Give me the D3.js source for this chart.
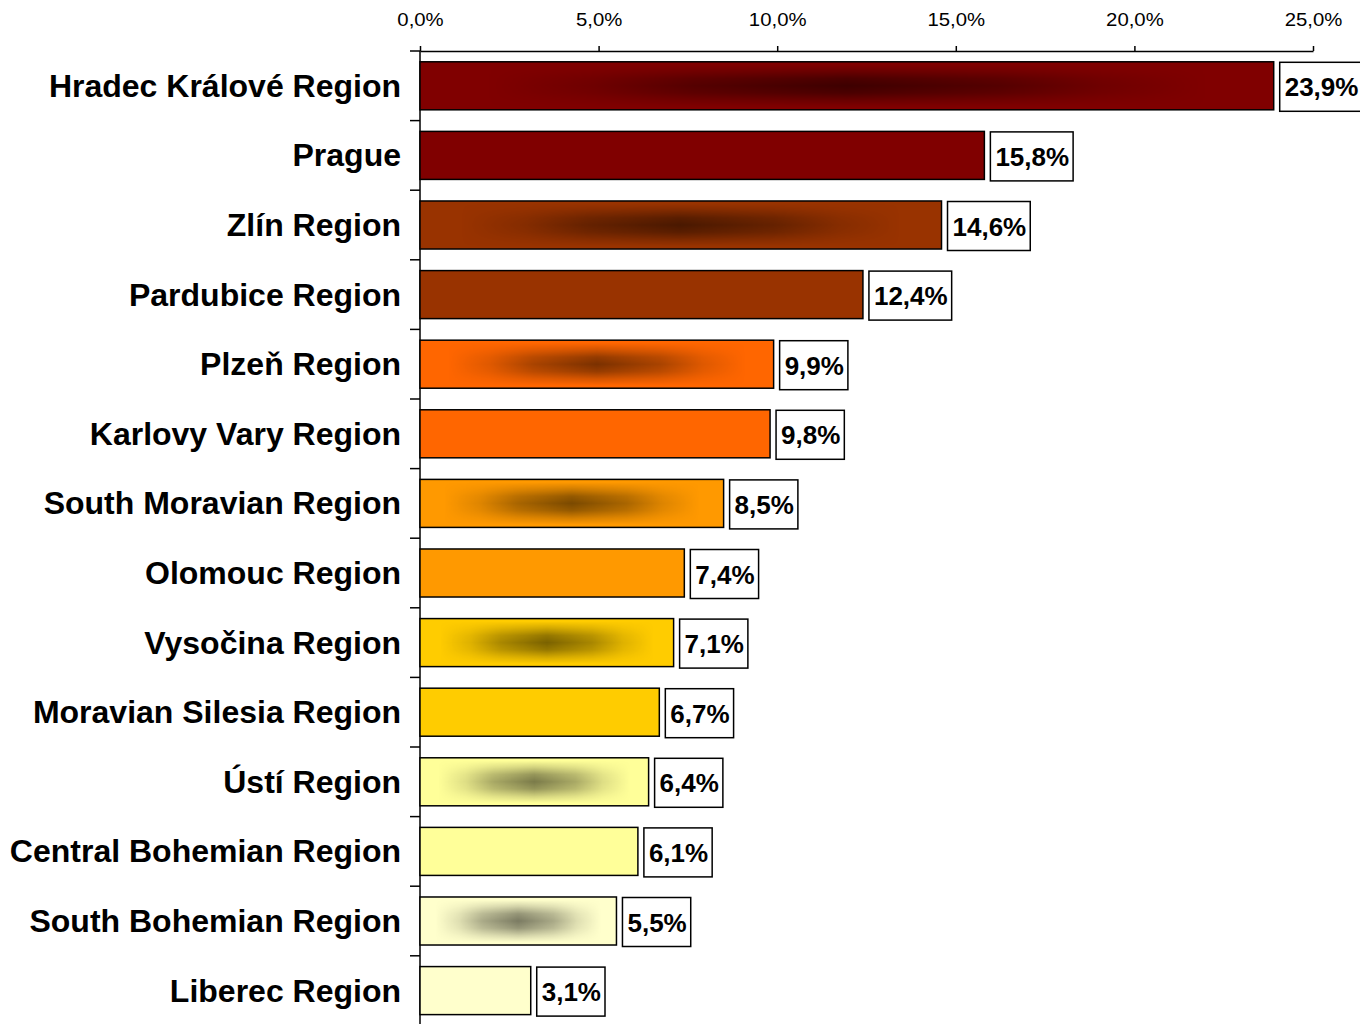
<!DOCTYPE html>
<html>
<head>
<meta charset="utf-8">
<script src="https://cdn.jsdelivr.net/npm/d3@7"></script>
<style>
  html, body { margin: 0; padding: 0; background: #fff; }
  svg { display: block; }
  text { font-family: "Liberation Sans", Arial, sans-serif; }
</style>
</head>
<body>
<svg id="chart" width="1360" height="1024"></svg>
<script>
const categories = [
  "Hradec Králové Region", "Prague", "Zlín Region", "Pardubice Region",
  "Plzeň Region", "Karlovy Vary Region", "South Moravian Region", "Olomouc Region",
  "Vysočina Region", "Moravian Silesia Region", "Ústí Region", "Central Bohemian Region",
  "South Bohemian Region", "Liberec Region"
];
const values = [23.9, 15.8, 14.6, 12.4, 9.9, 9.8, 8.5, 7.4, 7.1, 6.7, 6.4, 6.1, 5.5, 3.1];
const barColors = [
  "#800000", "#800000", "#993300", "#993300", "#FF6600", "#FF6600", "#FF9900",
  "#FF9900", "#FFCC00", "#FFCC00", "#FFFF99", "#FFFF99", "#FFFFCC", "#FFFFCC"
];
const shaded = [true, false, true, false, true, false, true, false, true, false, true, false, true, false];
const tickValues = [0, 5, 10, 15, 20, 25];

const svg = d3.select("#chart");
const x = d3.scaleLinear().domain([0, 25]).range([420, 1313]);
const y = d3.scaleBand().domain(categories).range([51, 1025.4]).paddingInner(0.31).paddingOuter(0.155);
const fmt = v => v.toFixed(1).replace(".", ",") + "%";

const defs = svg.append("defs");
const hg = defs.append("linearGradient").attr("id", "hg").attr("x1", 0).attr("y1", 0).attr("x2", 1).attr("y2", 0);
[[0, 0], [0.08, 0], [0.2, 0.25], [0.32, 0.65], [0.5, 1], [0.68, 0.65], [0.8, 0.25], [0.92, 0], [1, 0]].forEach(([o, a]) =>
  hg.append("stop").attr("offset", o).attr("stop-color", "#fff").attr("stop-opacity", a));
const vg = defs.append("linearGradient").attr("id", "vg").attr("x1", 0).attr("y1", 0).attr("x2", 0).attr("y2", 1);
[[0, 0], [0.06, 0], [0.2, 0.35], [0.35, 0.8], [0.5, 1], [0.65, 0.8], [0.8, 0.35], [0.94, 0], [1, 0]].forEach(([o, a]) =>
  vg.append("stop").attr("offset", o).attr("stop-color", "#fff").attr("stop-opacity", a));

// top axis
const xAxis = d3.axisTop(x).tickValues(tickValues).tickFormat(fmt).tickSize(5).tickSizeOuter(0);
const gx = svg.append("g").attr("transform", "translate(0,51)").call(xAxis);
gx.select(".domain").attr("stroke", "#000").attr("stroke-width", 1.5);
gx.selectAll(".tick line").attr("stroke", "#000").attr("stroke-width", 1.5);
gx.selectAll(".tick text")
  .attr("font-size", 18).attr("fill", "#000").attr("y", -25).attr("dy", 0)
  .style("font-family", "'Liberation Sans', Arial, sans-serif")
  .each(function () {
    const len = this.getComputedTextLength();
    d3.select(this).attr("textLength", len * 1.13).attr("lengthAdjust", "spacingAndGlyphs");
  });

// left axis
const step = y.step();
const y0 = y.range()[0];
svg.append("line").attr("x1", 420).attr("x2", 420).attr("y1", 51).attr("y2", 1024)
  .attr("stroke", "#000").attr("stroke-width", 1.5);
svg.append("g").selectAll("line").data(d3.range(categories.length + 1)).join("line")
  .attr("x1", 410).attr("x2", 420)
  .attr("y1", k => y0 + k * step).attr("y2", k => y0 + k * step)
  .attr("stroke", "#000").attr("stroke-width", 1.5);

// category labels
svg.append("g").selectAll("text").data(categories).join("text")
  .attr("x", 401).attr("y", d => y(d) + y.bandwidth() / 2 + 11)
  .attr("text-anchor", "end").attr("font-size", 32).attr("font-weight", "bold").attr("fill", "#000")
  .text(d => d);

// bars
const data = categories.map((c, i) => ({ c, v: values[i], color: barColors[i], shaded: shaded[i], i }));
const bars = svg.append("g");
data.forEach(d => {
  const bx = x(0), by = y(d.c), bw = x(d.v) - x(0), bh = y.bandwidth();
  bars.append("rect").attr("x", bx).attr("y", by).attr("width", bw).attr("height", bh).attr("fill", d.color);
  if (d.shaded) {
    const mv = defs.append("mask").attr("id", "mv" + d.i).style("mask-type", "alpha")
      .attr("maskUnits", "userSpaceOnUse").attr("x", bx - 2).attr("y", by - 2).attr("width", bw + 4).attr("height", bh + 4);
    mv.append("rect").attr("x", bx).attr("y", by).attr("width", bw).attr("height", bh).attr("fill", "url(#vg)");
    const mh = defs.append("mask").attr("id", "mh" + d.i).style("mask-type", "alpha")
      .attr("maskUnits", "userSpaceOnUse").attr("x", bx - 2).attr("y", by - 2).attr("width", bw + 4).attr("height", bh + 4);
    mh.append("g").attr("mask", `url(#mv${d.i})`)
      .append("rect").attr("x", bx).attr("y", by).attr("width", bw).attr("height", bh).attr("fill", "url(#hg)");
    bars.append("rect").attr("x", bx).attr("y", by).attr("width", bw).attr("height", bh)
      .attr("fill", "#000").attr("fill-opacity", 0.52).attr("mask", `url(#mh${d.i})`);
  }
  bars.append("rect").attr("x", bx).attr("y", by).attr("width", bw).attr("height", bh)
    .attr("fill", "none").attr("stroke", "#000").attr("stroke-width", 1.5);
});

// value labels
const labels = svg.append("g");
data.forEach(d => {
  const cy = y(d.c) + y.bandwidth() / 2 + 1;
  const g = labels.append("g");
  const t = g.append("text").attr("font-size", 26).attr("font-weight", "bold").attr("fill", "#000")
    .attr("text-anchor", "middle").text(fmt(d.v));
  const tw = t.node().getComputedTextLength();
  const bw = tw + 9, bh = 49;
  const bx = x(d.v) + 6;
  g.insert("rect", "text").attr("x", bx).attr("y", cy - bh / 2).attr("width", bw).attr("height", bh)
    .attr("fill", "#fff").attr("stroke", "#000").attr("stroke-width", 1.5);
  t.attr("x", bx + bw / 2 + 0.5).attr("y", cy + 9.5);
});
</script>
</body>
</html>
